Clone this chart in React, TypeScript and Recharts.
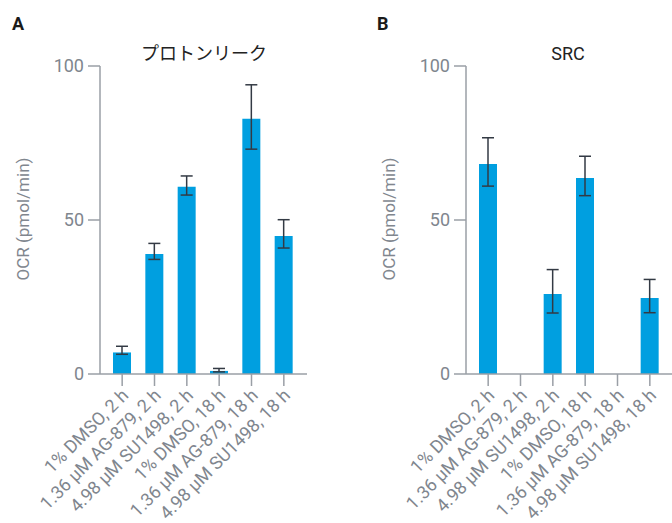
import { BarChart, Bar, XAxis, YAxis, ErrorBar } from "recharts";

const categories = [
  "1% DMSO, 2 h",
  "1.36 μM AG-879, 2 h",
  "4.98 μM SU1498, 2 h",
  "1% DMSO, 18 h",
  "1.36 μM AG-879, 18 h",
  "4.98 μM SU1498, 18 h",
];

// panel A: proton leak
const leakValues = [7.0, 39.0, 60.8, 1.0, 82.9, 44.8];
const leakErrors: [number, number][] = [
  [0.6, 2.0],
  [1.8, 3.4],
  [2.7, 3.5],
  [0.3, 0.8],
  [9.9, 11.0],
  [3.9, 5.3],
];

// panel B: spare respiratory capacity (no bars for AG-879)
const srcValues = [68.2, null, 26.0, 63.6, null, 24.7];
const srcErrors: ([number, number] | null)[] = [
  [7.2, 8.5],
  null,
  [6.2, 7.9],
  [5.7, 7.1],
  null,
  [4.8, 6.0],
];

const yTicks = [0, 50, 100];

const BAR = "#009fe0";
const AXIS = "#9a9fa6";
const TICK = "#80868e";
const ERR = "#333a44";
const FONT = "Roboto, 'Noto Sans CJK JP', sans-serif";

const leakData = categories.map((c, i) => ({ name: c, value: leakValues[i], err: leakErrors[i] }));
const srcData = categories.map((c, i) => ({ name: c, value: srcValues[i], err: srcErrors[i] }));

const AngledTick = (props: any) => {
  const { x, y, payload } = props;
  const tx = x + 3;
  const ty = y + 4;
  return (
    <text
      x={tx}
      y={ty}
      dy="0.35em"
      transform={`rotate(-45, ${tx}, ${ty})`}
      textAnchor="end"
      fontSize={18}
      fontFamily={FONT}
      fill={TICK}
    >
      {payload.value}
    </text>
  );
};

function Panel({ data }: { data: any[] }) {
  return (
    <BarChart width={307} height={523} data={data} margin={{ top: 66, right: 0, left: 0, bottom: 0 }}>
      <XAxis
        dataKey="name"
        interval={0}
        height={149}
        padding={{ left: 6, right: 7 }}
        stroke={AXIS}
        strokeWidth={1.5}
        tickSize={12}
        tick={<AngledTick />}
      />
      <YAxis
        domain={[0, 100]}
        ticks={yTicks}
        width={100}
        stroke={AXIS}
        strokeWidth={1.5}
        tickSize={12}
        tickMargin={4}
        tick={{ fill: TICK, fontSize: 18, fontFamily: FONT }}
      />
      <Bar dataKey="value" fill={BAR} barSize={18} isAnimationActive={false}>
        <ErrorBar dataKey="err" width={6} stroke={ERR} strokeWidth={1.5} isAnimationActive={false} />
      </Bar>
    </BarChart>
  );
}

export default function App() {
  return (
    <div
      style={{
        position: "absolute",
        left: 0,
        top: 0,
        width: 672,
        height: 523,
        overflow: "hidden",
        background: "#fff",
      }}
    >
      <div style={{ position: "absolute", left: 0, top: 0 }}>
        <Panel data={leakData} />
      </div>
      <div style={{ position: "absolute", left: 366, top: 0 }}>
        <Panel data={srcData} />
      </div>
      <svg
        width={672}
        height={523}
        style={{ position: "absolute", left: 0, top: 0, pointerEvents: "none" }}
        fontFamily={FONT}
      >
        <text x={12} y={30} fontSize={18} fontWeight="bold" fill="#1a1a1a">A</text>
        <text x={377} y={30} fontSize={18} fontWeight="bold" fill="#1a1a1a">B</text>
        <text x={204} y={60} fontSize={18} textAnchor="middle" fill="#222">プロトンリーク</text>
        <text x={568} y={60} fontSize={18} textAnchor="middle" fill="#222">SRC</text>
        <text x={29} y={219} fontSize={17} textAnchor="middle" fill={TICK} transform="rotate(-90, 29, 219)">
          OCR (pmol/min)
        </text>
        <text x={395} y={219} fontSize={17} textAnchor="middle" fill={TICK} transform="rotate(-90, 395, 219)">
          OCR (pmol/min)
        </text>
      </svg>
    </div>
  );
}
